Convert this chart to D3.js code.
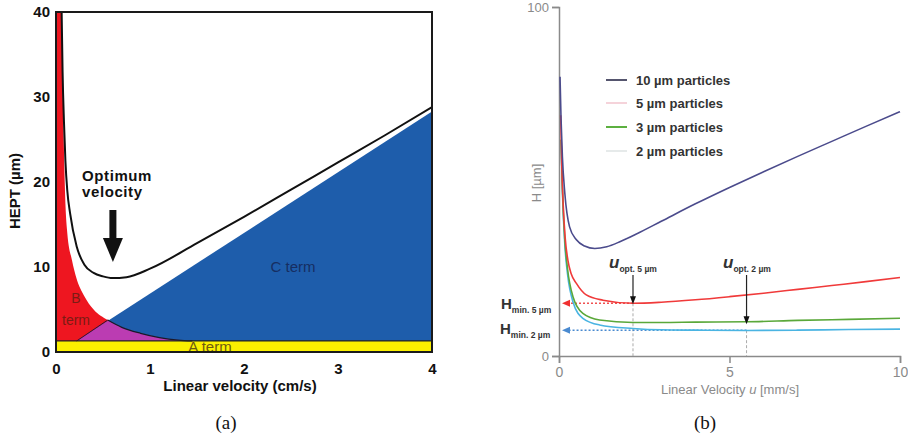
<!DOCTYPE html>
<html>
<head>
<meta charset="utf-8">
<script src="https://cdn.jsdelivr.net/npm/d3@7"></script>
<style>
  html, body { margin: 0; padding: 0; background: #fff; }
  svg { display: block; }
  .bold { font-family: "Liberation Sans", Arial, sans-serif; font-weight: bold; }
  .narrow { font-family: "Liberation Sans", Arial, sans-serif; }
</style>
</head>
<body>
<svg id="chart" width="908" height="434"></svg>
<script>
// ---------------- Panel (a) data ----------------
const aXTicks = [0, 1, 2, 3, 4];
const aYTicks = [0, 10, 20, 30, 40];
const aTerm = 1.3;
const bTermCurve = [[0.06, 40], [0.07, 32], [0.08, 26], [0.1, 17.5], [0.12, 14], [0.17, 10.8], [0.22, 8.6],
  [0.3, 6.6], [0.4, 5.0], [0.55, 3.76], [0.7, 2.9], [0.9, 2.2], [1.1, 1.7], [1.3, 1.4], [1.45, 1.3]];
const cTermLine = [[0.22, 1.3], [4, 28.3]];
const totalCurve = [[0.06, 40], [0.07, 33], [0.085, 27], [0.1, 22.5], [0.12, 19], [0.15, 16.3], [0.22, 12.4],
  [0.3, 10.3], [0.4, 9.3], [0.5, 8.9], [0.6, 8.7], [0.75, 8.8], [1.0, 9.8], [1.5, 12.8], [2, 15.9],
  [2.5, 19.1], [3, 22.3], [3.5, 25.5], [4, 28.8]];
const optimumU = 0.6;

// ---------------- Panel (b) data ----------------
const bXTicks = [0, 5, 10];
const bYTicks = [0, 100];
const seriesNames = ["10 \u00b5m particles", "5 \u00b5m particles", "3 \u00b5m particles", "2 \u00b5m particles"];
const h10 = [[0.03, 80], [0.06, 68], [0.1, 57], [0.17, 46.7], [0.31, 37], [0.51, 33.3], [0.75, 31.5], [1.05, 30.8],
  [1.4, 31.3], [1.8, 32.8], [2.3, 35.1], [3, 38.6], [4, 43.6], [5, 48.3], [6, 52.8], [7, 57.2], [8, 61.5], [9, 65.8], [10, 70]];
const h5 = [[0.05, 69], [0.08, 55], [0.12, 44], [0.18, 34], [0.26, 27.5], [0.36, 23.5], [0.51, 20.8], [0.8, 17.5],
  [1.29, 16], [2.17, 15.1], [3, 15.4], [4, 16.1], [5, 17], [6, 18], [7, 19.1], [8, 20.2], [9, 21.3], [10, 22.5]];
const h3 = [[0.06, 62], [0.1, 48], [0.17, 33.3], [0.25, 25], [0.41, 17], [0.7, 12.2], [1.19, 10.3], [2.17, 9.6],
  [3, 9.6], [4, 9.7], [5.5, 9.8], [7, 10.2], [8.5, 10.5], [10, 10.8]];
const h2 = [[0.06, 62], [0.1, 47], [0.17, 32], [0.25, 23.5], [0.41, 15.5], [0.7, 10.8], [1.19, 8.9], [2.17, 7.9],
  [3, 7.5], [4, 7.4], [5.5, 7.3], [7, 7.4], [8.5, 7.6], [10, 7.7]];
const seriesColors = ["#4b4b8c", "#f03a3a", "#5aa83a", "#4ab4e2"];
const legendColors = ["#55556e", "#f5d3da", "#5cb040", "#e6eaea"];
const uOpt5 = 2.17, hMin5 = 15.1;
const uOpt2 = 5.5, hMin2 = 7.4, hAt2Green = 9.4;

const svg = d3.select("#chart");

// ================= Panel (a) =================
const xa = d3.scaleLinear().domain([0, 4]).range([56, 432]);
const ya = d3.scaleLinear().domain([0, 40]).range([352, 12]);
const ga = svg.append("g");

const defs = svg.append("defs");
const redArea = d3.area().x(d => xa(d[0])).y0(ya(aTerm)).y1(d => ya(d[1])).curve(d3.curveMonotoneX);
const redData = [[0, 40]].concat(bTermCurve);
defs.append("clipPath").attr("id", "redClip").append("path").attr("d", redArea(redData));
defs.append("clipPath").attr("id", "plotA").append("rect")
  .attr("x", xa(0)).attr("y", ya(40)).attr("width", xa(4) - xa(0)).attr("height", ya(0) - ya(40));

const plotA = ga.append("g").attr("clip-path", "url(#plotA)");
plotA.append("rect").attr("x", xa(0)).attr("y", ya(aTerm)).attr("width", xa(4) - xa(0))
  .attr("height", ya(0) - ya(aTerm)).attr("fill", "#fbf000");
plotA.append("path").attr("d", redArea(redData)).attr("fill", "#ee1620");
const blueArea = d3.area().x(d => xa(d[0])).y0(ya(aTerm)).y1(d => ya(d[1]));
plotA.append("path").attr("d", blueArea(cTermLine)).attr("fill", "#1e5dab");
plotA.append("path").attr("d", blueArea(cTermLine)).attr("fill", "#bb3cb2").attr("clip-path", "url(#redClip)");
const lineA = d3.line().x(d => xa(d[0])).y(d => ya(d[1])).curve(d3.curveMonotoneX);
plotA.append("path").attr("d", lineA(bTermCurve.filter(d => d[0] >= 0.55)))
  .attr("fill", "none").attr("stroke", "#1a1a2a").attr("stroke-width", 1.3);
plotA.append("path").attr("d", lineA([cTermLine[0], [0.55, 3.76]]))
  .attr("fill", "none").attr("stroke", "#3a1030").attr("stroke-width", 1);
plotA.append("line").attr("x1", xa(0)).attr("x2", xa(4)).attr("y1", ya(aTerm)).attr("y2", ya(aTerm))
  .attr("stroke", "#222").attr("stroke-width", 1.3);
plotA.append("path").attr("d", lineA(totalCurve)).attr("fill", "none").attr("stroke", "#111").attr("stroke-width", 2);

// term labels
const termFont = "'Liberation Sans', Arial, sans-serif";
ga.append("text").attr("font-family", termFont).attr("x", 76).attr("y", 303).attr("text-anchor", "middle")
  .attr("font-size", 14).attr("fill", "#7a1c14").text("B");
ga.append("text").attr("font-family", termFont).attr("x", 76).attr("y", 325).attr("text-anchor", "middle")
  .attr("font-size", 14).attr("fill", "#7a1c14").text("term");
ga.append("text").attr("font-family", termFont).attr("x", 293).attr("y", 272).attr("text-anchor", "middle")
  .attr("font-size", 15).attr("fill", "#162e62").text("C term");
ga.append("text").attr("font-family", termFont).attr("x", 210).attr("y", 352).attr("text-anchor", "middle")
  .attr("font-size", 15).attr("fill", "#6e5a12").text("A term");

// frame
ga.append("rect").attr("x", xa(0)).attr("y", ya(40)).attr("width", xa(4) - xa(0)).attr("height", ya(0) - ya(40))
  .attr("fill", "none").attr("stroke", "#1a1a1a").attr("stroke-width", 2);

// axes (a)
const axA = d3.axisBottom(xa).tickValues(aXTicks).tickSize(0).tickPadding(11).tickFormat(d3.format("d"));
const gxA = ga.append("g").attr("transform", `translate(0,${ya(0)})`).call(axA);
gxA.select(".domain").remove();
gxA.selectAll("text").attr("class", "bold").attr("font-size", 15).attr("fill", "#111");
const ayA = d3.axisLeft(ya).tickValues(aYTicks).tickSize(0).tickPadding(6).tickFormat(d3.format("d"));
const gyA = ga.append("g").attr("transform", `translate(${xa(0)},0)`).call(ayA);
gyA.select(".domain").remove();
gyA.selectAll("text").attr("class", "bold").attr("font-size", 15).attr("fill", "#111");

ga.append("text").attr("class", "bold").attr("x", 240).attr("y", 391).attr("text-anchor", "middle")
  .attr("font-size", 15).attr("fill", "#111").text("Linear velocity (cm/s)");
ga.append("text").attr("class", "bold").attr("transform", "translate(20,191) rotate(-90)")
  .attr("text-anchor", "middle").attr("font-size", 15).attr("fill", "#111").text("HEPT (\u00b5m)");

ga.append("text").attr("class", "bold").attr("x", 82).attr("y", 181).attr("font-size", 15)
  .attr("letter-spacing", 0.6).attr("fill", "#111").text("Optimum");
ga.append("text").attr("class", "bold").attr("x", 82).attr("y", 197).attr("font-size", 15)
  .attr("letter-spacing", 0.6).attr("fill", "#111").text("velocity");
const ax0 = xa(optimumU) + 0.5;
ga.append("rect").attr("x", ax0 - 3.5).attr("y", 210).attr("width", 7).attr("height", 30).attr("fill", "#111");
ga.append("path").attr("d", `M${ax0 - 10},238 L${ax0 + 10},238 L${ax0},262 Z`).attr("fill", "#111");

ga.append("text").attr("x", 226).attr("y", 429).attr("text-anchor", "middle")
  .attr("font-family", "'Liberation Serif', 'DejaVu Serif', serif").attr("font-size", 19).attr("fill", "#111").text("(a)");

// ================= Panel (b) =================
const xb = d3.scaleLinear().domain([0, 10]).range([559, 900]);
const yb = d3.scaleLinear().domain([0, 100]).range([356, 7]);
const gb = svg.append("g");
const axisColor = "#8a8a8a";

const axB = d3.axisBottom(xb).tickValues(bXTicks).tickSize(7).tickPadding(4).tickFormat(d3.format("d"));
const gxB = gb.append("g").attr("transform", `translate(0,${yb(0)})`).call(axB);
gxB.select(".domain").attr("stroke", axisColor).attr("stroke-width", 1.5);
gxB.selectAll(".tick line").attr("stroke", axisColor).attr("stroke-width", 1.5);
gxB.selectAll("text").attr("class", "narrow").attr("font-size", 14).attr("fill", "#8a8a8a");
const ayB = d3.axisLeft(yb).tickValues(bYTicks).tickSize(7).tickPadding(3).tickFormat(d3.format("d"));
const gyB = gb.append("g").attr("transform", `translate(${xb(0)},0)`).call(ayB);
gyB.select(".domain").attr("stroke", axisColor).attr("stroke-width", 1.5);
gyB.selectAll(".tick line").attr("stroke", axisColor).attr("stroke-width", 1.5);
gyB.selectAll("text").attr("class", "narrow").attr("font-size", 13).attr("fill", "#8a8a8a");

const xl = gb.append("text").attr("class", "narrow").attr("x", 730).attr("y", 394).attr("text-anchor", "middle")
  .attr("font-size", 13).attr("fill", "#8a8a8a");
xl.append("tspan").text("Linear Velocity ");
xl.append("tspan").attr("font-style", "italic").text("u");
xl.append("tspan").text(" [mm/s]");
gb.append("text").attr("class", "narrow").attr("transform", "translate(541,183) rotate(-90)")
  .attr("text-anchor", "middle").attr("font-size", 13).attr("fill", "#8a8a8a").text("H [\u00b5m]");

[[uOpt5, hMin5], [uOpt2, hMin2]].forEach(([u, h]) => {
  gb.append("line").attr("x1", xb(u)).attr("x2", xb(u)).attr("y1", yb(h)).attr("y2", yb(0))
    .attr("stroke", "#aaa").attr("stroke-width", 1).attr("stroke-dasharray", "3,2");
});
gb.append("line").attr("x1", xb(uOpt5)).attr("x2", xb(0) + 7).attr("y1", yb(hMin5)).attr("y2", yb(hMin5))
  .attr("stroke", "#f05050").attr("stroke-width", 1.5).attr("stroke-dasharray", "2,2");
gb.append("path").attr("d", `M${xb(0) + 3},${yb(hMin5)} l8,-3.5 l0,7 Z`).attr("fill", "#f03030");
gb.append("line").attr("x1", xb(uOpt2)).attr("x2", xb(0) + 7).attr("y1", yb(hMin2)).attr("y2", yb(hMin2))
  .attr("stroke", "#4a8ad0").attr("stroke-width", 1.5).attr("stroke-dasharray", "2,2");
gb.append("path").attr("d", `M${xb(0) + 3},${yb(hMin2)} l8,-3.5 l0,7 Z`).attr("fill", "#4a8ad0");

const lineB = d3.line().x(d => xb(d[0])).y(d => yb(d[1])).curve(d3.curveMonotoneX);
const allSeries = [h10, h5, h3, h2];
[3, 2, 1, 0].forEach(i => {
  gb.append("path").attr("d", lineB(allSeries[i])).attr("fill", "none")
    .attr("stroke", seriesColors[i]).attr("stroke-width", 1.6);
});

[[uOpt5, hMin5], [uOpt2, hAt2Green]].forEach(([u, h]) => {
  const x = xb(u), yEnd = yb(h);
  gb.append("line").attr("x1", x).attr("x2", x).attr("y1", 275).attr("y2", yEnd - 4)
    .attr("stroke", "#222").attr("stroke-width", 1.2);
  gb.append("path").attr("d", `M${x - 3},${yEnd - 7} L${x + 3},${yEnd - 7} L${x},${yEnd + 1} Z`).attr("fill", "#111");
});

function subLabel(x, y, main, sub, italic, size) {
  const t = gb.append("text").attr("class", "narrow").attr("x", x).attr("y", y).attr("fill", "#333").attr("font-weight", "bold");
  t.append("tspan").attr("font-size", size).attr("font-style", italic ? "italic" : "normal").text(main);
  t.append("tspan").attr("font-size", 8.5).attr("dy", 4).text(sub);
}
subLabel(609, 268, "u", "opt. 5 \u00b5m", true, 17);
subLabel(723, 268, "u", "opt. 2 \u00b5m", true, 17);
subLabel(501, 309, "H", "min. 5 \u00b5m", false, 15);
subLabel(500, 334, "H", "min. 2 \u00b5m", false, 15);

const legY = [80, 103, 127, 151];
seriesNames.forEach((name, i) => {
  gb.append("line").attr("x1", 606).attr("x2", 627).attr("y1", legY[i]).attr("y2", legY[i])
    .attr("stroke", legendColors[i]).attr("stroke-width", 2);
  gb.append("text").attr("class", "narrow").attr("x", 636).attr("y", legY[i] + 5).attr("font-size", 13)
    .attr("font-weight", "bold").attr("fill", "#333").text(name);
});

gb.append("text").attr("x", 705).attr("y", 429).attr("text-anchor", "middle")
  .attr("font-family", "'Liberation Serif', 'DejaVu Serif', serif").attr("font-size", 19).attr("fill", "#111").text("(b)");
</script>
</body>
</html>
